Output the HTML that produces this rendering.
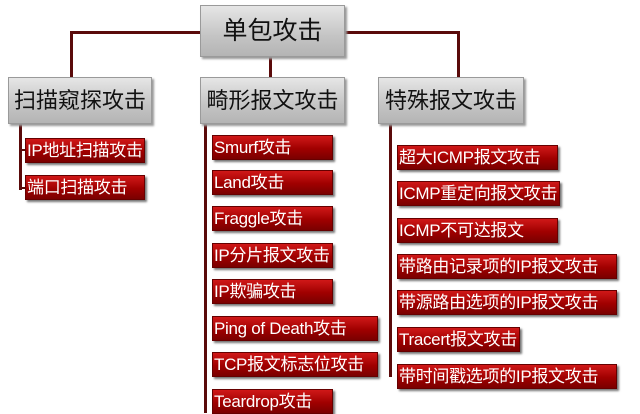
<!DOCTYPE html>
<html><head><meta charset="utf-8"><style>
body{margin:0;width:640px;height:413px;background:#fff;position:relative;overflow:hidden;font-family:"Liberation Sans","Noto Sans CJK SC",sans-serif}
.g{position:absolute;background:linear-gradient(#e6e6e6,#c4c4c4 60%,#b4b4b4);border:1px solid #9a9a9a;box-shadow:2px 2px 2px #999;color:#111;font-size:22px;line-height:46px;text-align:center;white-space:nowrap;box-sizing:border-box}
.r{position:absolute;height:25px;background:linear-gradient(#d01818,#a00000 55%,#7a0000);border:1px solid #600;box-shadow:2px 2px 2px #777;color:#fff;font-size:17px;line-height:23px;padding-left:1px;box-sizing:border-box;white-space:nowrap;letter-spacing:-0.3px}
.l{position:absolute;background:#5a0a0a}
</style></head><body>
<div class="l" style="left:70px;top:31px;width:388px;height:3px"></div>
<div class="l" style="left:70px;top:31px;width:3px;height:46px"></div>
<div class="l" style="left:457px;top:31px;width:3px;height:46px"></div>
<div class="l" style="left:269px;top:57px;width:3px;height:20px"></div>
<div class="l" style="left:19px;top:124px;width:3px;height:66px"></div>
<div class="l" style="left:19px;top:149px;width:8px;height:2px"></div>
<div class="l" style="left:19px;top:187px;width:8px;height:2px"></div>
<div class="l" style="left:204px;top:124px;width:3px;height:289px"></div>
<div class="l" style="left:389px;top:124px;width:3px;height:253px"></div>
<div class="g" style="left:200px;top:5px;width:145px;height:52px;line-height:50px;font-size:25px">单包攻击</div>
<div class="g" style="left:8px;top:77px;width:144px;height:47px">扫描窥探攻击</div>
<div class="g" style="left:200px;top:77px;width:145px;height:47px">畸形报文攻击</div>
<div class="g" style="left:378px;top:77px;width:146px;height:47px">特殊报文攻击</div>
<div class="r" style="left:25px;top:138px;width:120px">IP地址扫描攻击</div>
<div class="r" style="left:25px;top:175px;width:120px">端口扫描攻击</div>
<div class="r" style="left:212px;top:135px;width:121px">Smurf攻击</div>
<div class="r" style="left:212px;top:170px;width:121px">Land攻击</div>
<div class="r" style="left:212px;top:206px;width:121px">Fraggle攻击</div>
<div class="r" style="left:212px;top:243px;width:121px">IP分片报文攻击</div>
<div class="r" style="left:212px;top:279px;width:121px">IP欺骗攻击</div>
<div class="r" style="left:212px;top:316px;width:166px">Ping of Death攻击</div>
<div class="r" style="left:212px;top:352px;width:166px">TCP报文标志位攻击</div>
<div class="r" style="left:212px;top:389px;width:121px">Teardrop攻击</div>
<div class="r" style="left:397px;top:145px;width:161px">超大ICMP报文攻击</div>
<div class="r" style="left:397px;top:181px;width:163px">ICMP重定向报文攻击</div>
<div class="r" style="left:397px;top:218px;width:161px">ICMP不可达报文</div>
<div class="r" style="left:397px;top:254px;width:220px">带路由记录项的IP报文攻击</div>
<div class="r" style="left:397px;top:290px;width:220px">带源路由选项的IP报文攻击</div>
<div class="r" style="left:397px;top:327px;width:123px">Tracert报文攻击</div>
<div class="r" style="left:397px;top:364px;width:220px">带时间戳选项的IP报文攻击</div>
</body></html>
